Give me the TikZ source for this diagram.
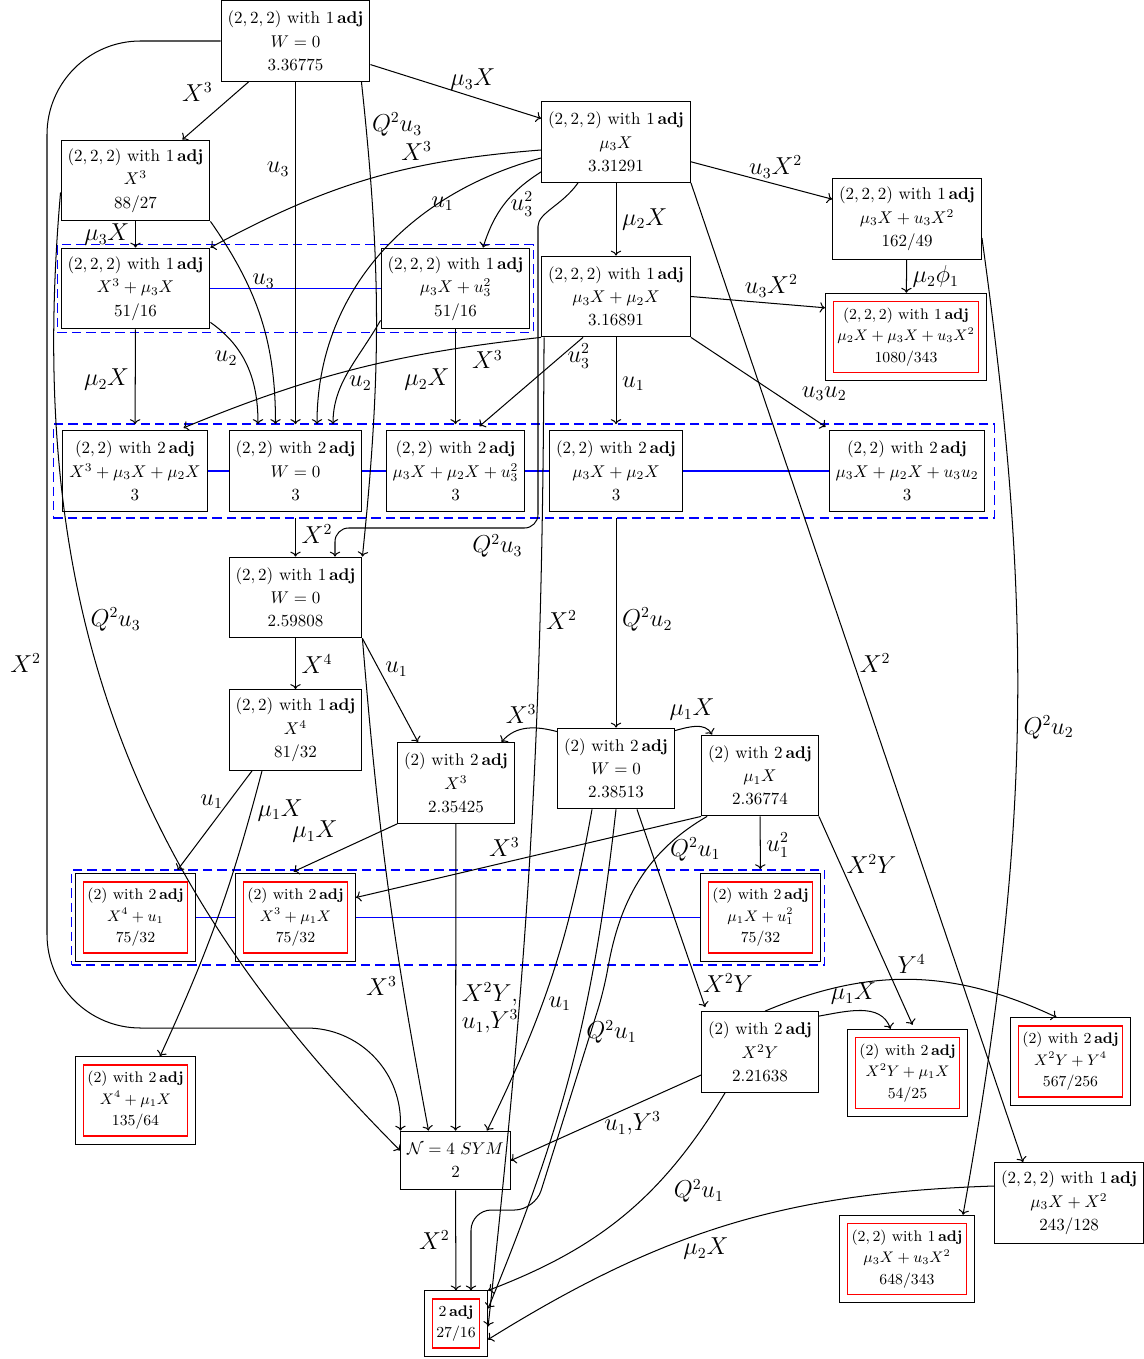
\documentclass[tikz,border=0pt]{standalone}
\usepackage{amsmath}
\usepackage{amssymb}
\usepackage{xcolor}
\usepackage{tikz}
\usetikzlibrary{positioning,calc,fit,arrows.meta}
\newcommand{\wadj}[2]{$#1$ with $#2\,\mathbf{adj}$}
\tikzset{
    box/.style={rectangle, draw, align=center, inner xsep=3.8pt, inner ysep=4pt, minimum height=47.5pt, font=\fontsize{10}{13.7}\selectfont},
    finalbox/.style={rectangle, draw=red, thick, align=center, inner xsep=2.2pt, inner ysep=3.8pt, font=\fontsize{9}{12.6}\selectfont},
    outerbox/.style={rectangle, draw, inner sep=4.4pt},
    group/.style={rectangle, draw=blue, dash pattern=on 5.5pt off 3pt, thick},
    link/.style={draw=blue, thick},
    lab/.style={font=\fontsize{13.5}{16}\selectfont},
    ingrp/.style={shorten >=3.5pt}
}

\begin{document}
\begin{tikzpicture}[x=0.588pt, y=0.588pt, semithick]
    \useasboundingbox (0,0) rectangle (1143,-1359);

    % --- (2,2,2) WITH 1 ADJ ---
    \node[box] (n222w) at (295.5,-41) {\wadj{(2,2,2)}{1}\\ $W=0$\\ 3.36775};
    \node[box] (n222x3) at (135.5,-180.5) {\wadj{(2,2,2)}{1}\\ $X^3$\\ 88/27};
    \node[box] (n222m3) at (616,-142) {\wadj{(2,2,2)}{1}\\ $\mu_3X$\\ 3.31291};
    \node[box] (n222m3ux) at (907,-219) {\wadj{(2,2,2)}{1}\\ $\mu_3X+u_3X^2$\\ 162/49};
    \node[box] (n222x3m3) at (135.5,-288.5) {\wadj{(2,2,2)}{1}\\ $X^3+\mu_3X$\\ 51/16};
    \node[box] (n222m3u) at (455.5,-288.5) {\wadj{(2,2,2)}{1}\\ $\mu_3X+u_3^2$\\ 51/16};
    \node[box] (n222m3m2) at (616,-296.5) {\wadj{(2,2,2)}{1}\\ $\mu_3X+\mu_2X$\\ 3.16891};
    \node[box] (n222m3x2) at (1069,-1203) {\wadj{(2,2,2)}{1}\\ $\mu_3X+X^2$\\ 243/128};
    \node[finalbox] (f222-in) at (906,-337) {\wadj{(2,2,2)}{1}\\ $\mu_2X+\mu_3X+u_3X^2$\\ 1080/343};

    % --- (2,2) ---
    \node[box] (n22x3) at (135,-471) {\wadj{(2,2)}{2}\\ $X^3+\mu_3X+\mu_2X$\\ 3};
    \node[box] (n22w) at (295.5,-471) {\wadj{(2,2)}{2}\\ $W=0$\\ 3};
    \node[box] (n22u) at (455.5,-471) {\wadj{(2,2)}{2}\\ $\mu_3X+\mu_2X+u_3^2$\\ 3};
    \node[box] (n22m) at (616,-471) {\wadj{(2,2)}{2}\\ $\mu_3X+\mu_2X$\\ 3};
    \node[box] (n22uu) at (907,-471) {\wadj{(2,2)}{2}\\ $\mu_3X+\mu_2X+u_3u_2$\\ 3};
    \node[box] (n22w1) at (295.5,-597.5) {\wadj{(2,2)}{1}\\ $W=0$\\ 2.59808};
    \node[box] (n22x4) at (295.5,-730) {\wadj{(2,2)}{1}\\ $X^4$\\ 81/32};
    \node[finalbox] (f22m3ux-in) at (907,-1259) {\wadj{(2,2)}{1}\\ $\mu_3X+u_3X^2$\\ 648/343};

    % --- (2) ---
    \node[box] (n2x3) at (456,-783) {\wadj{(2)}{2}\\ $X^3$\\ 2.35425};
    \node[box] (n2w) at (616,-768.5) {\wadj{(2)}{2}\\ $W=0$\\ 2.38513};
    \node[box] (n2m1) at (760,-775.5) {\wadj{(2)}{2}\\ $\mu_1X$\\ 2.36774};
    \node[box] (n2x2y) at (760,-1052) {\wadj{(2)}{2}\\ $X^2Y$\\ 2.21638};
    \node[finalbox] (f2x4u-in) at (135.5,-917.5) {\wadj{(2)}{2}\\ $X^4+u_1$\\ 75/32};
    \node[finalbox] (f2x3m-in) at (295.5,-917.5) {\wadj{(2)}{2}\\ $X^3+\mu_1X$\\ 75/32};
    \node[finalbox] (f2m1u-in) at (760.5,-917.5) {\wadj{(2)}{2}\\ $\mu_1X+u_1^2$\\ 75/32};
    \node[finalbox] (f2x2ym-in) at (907.5,-1073) {\wadj{(2)}{2}\\ $X^2Y+\mu_1X$\\ 54/25};
    \node[finalbox] (f2x2yy-in) at (1070.5,-1061.5) {\wadj{(2)}{2}\\ $X^2Y+Y^4$\\ 567/256};
    \node[finalbox] (f2x4m-in) at (135.5,-1100.5) {\wadj{(2)}{2}\\ $X^4+\mu_1X$\\ 135/64};

    % --- END POINTS ---
    \node[box, minimum height=34.5pt] (sym) at (455.5,-1160.5) {$\mathcal{N}=4$ $SYM$\\ 2};
    \node[finalbox] (f2adj-in) at (456,-1323.5) {$2\,\mathbf{adj}$\\ 27/16};

    % --- OUTER FRAMES OF THE RED BOXES ---
    \foreach \n in {f222,f22m3ux,f2x4u,f2x3m,f2m1u,f2x2ym,f2x2yy,f2x4m,f2adj}
        \node[outerbox, fit=(\n-in)] (\n) {};

    % --- BLUE GROUPS ---
    \node[group, inner sep=1.8pt, fit=(n222x3m3)(n222m3u)] (grpA) {};
    \node[group, inner xsep=5.3pt, inner ysep=3.5pt, fit=(n22x3)(n22uu)] (grpB) {};
    \node[group, inner sep=2pt, fit=(f2x4u)(f2m1u)] (grpC) {};
    \draw[link] (n222x3m3) -- (n222m3u);
    \draw[link] (n22x3) -- (n22w) -- (n22u) -- (n22m) -- (n22uu);
    \draw[link] (f2x4u) -- (f2x3m) -- (f2m1u);

    % --- FROM W=0 (2,2,2) ---
    \draw[->] (n222w) -- node[lab, above left, pos=0.45] {$X^3$} (n222x3);
    \draw[->] (n222w) -- node[lab, above, pos=0.6] {$\mu_3X$} (n222m3);
    \draw[->, ingrp] (n222w) -- node[lab, left, pos=0.25] {$u_3$} (n22w);
    \draw[->] ([shift={(-9,0)}]n222w.south east) to[bend left=6] node[lab, right, pos=0.08] {$Q^2u_3$} (n22w1.north east);
    \draw[->, rounded corners=55pt] (n222w.west) -- (47,-41) -- node[lab, left, pos=0.63] {$X^2$} (47,-1028) -- (400,-1028) -- ([shift={(-55,0)}]sym.north);

    % --- FROM X^3 ---
    \draw[->] ([shift={(0,-12)}]n222x3.west) to[out=-95, in=135] node[lab, right, pos=0.4] {$Q^2u_3$} ([shift={(0,10)}]sym.west);
    \draw[->] (n222x3) -- node[lab, left] {$\mu_3X$} (n222x3m3);
    \draw[->, ingrp] (n222x3.south east) to[out=-55, in=90] node[lab, right, pos=0.3] {$u_3$} ([shift={(-20,0)}]n22w.north);

    % --- FROM mu_3 X ---
    \draw[->] ([shift={(0,-8)}]n222m3.west) to[bend right=12] node[lab, above, pos=0.35] {$X^3$} (n222x3m3.north east);
    \draw[->, ingrp] ([shift={(0,-16)}]n222m3.west) to[out=195, in=90] node[lab, below left, pos=0.22] {$u_1$} ([shift={(21.5,0)}]n22w.north);
    \draw[->] ([shift={(0,11)}]n222m3.south west) to[bend right=20] node[lab, right, pos=0.5] {$u_3^2$} ([shift={(27.5,0)}]n222m3u.north);
    \draw[->] (n222m3) -- node[lab, right] {$\mu_2X$} (n222m3m2);
    \draw[->] (n222m3) -- node[lab, above, pos=0.6] {$u_3X^2$} (n222m3ux);
    \draw[->] (n222m3.south east) -- node[lab, right, pos=0.49] {$X^2$} ([shift={(-46,0)}]n222m3x2.north);
    \draw[->, rounded corners=8pt] ([shift={(-38,0)}]n222m3.south) to[out=235, in=90] (538,-240) -- (538,-528) -| node[lab, below, pos=0.1] {$Q^2u_3$} ([shift={(39.5,0)}]n22w1.north);

    % --- FROM mu_3 X + mu_2 X ---
    \draw[->, ingrp] (n222m3m2.south west) to[bend right=8] node[lab, below, pos=0.13] {$X^3$} ([shift={(43,0)}]n22x3.north);
    \draw[->, ingrp] ([shift={(-33,0)}]n222m3m2.south) -- node[lab, right, pos=0.2] {$u_3^2$} ([shift={(19.5,0)}]n22u.north);
    \draw[->, ingrp] (n222m3m2) -- node[lab, right] {$u_1$} (n22m);
    \draw[->, ingrp] (n222m3m2.south east) -- node[lab, above right, pos=0.75] {$u_3u_2$} ([shift={(2,0)}]n22uu.north west);
    \draw[->] (n222m3m2.east) -- node[lab, above, pos=0.6] {$u_3X^2$} ([shift={(0,-15)}]f222.north west);
    \draw[->] ([shift={(3,0)}]n222m3m2.south west) to[bend left=3] node[lab, right, pos=0.27] {$X^2$} ([shift={(0,-3)}]f2adj.east);

    % --- FROM mu_3 X + u_3 X^2 ---
    \draw[->] (n222m3ux) -- node[lab, right] {$\mu_2\phi_1$} (f222);
    \draw[->] ([shift={(0,-19)}]n222m3ux.east) to[bend left=9] node[lab, right, pos=0.5] {$Q^2u_2$} ([shift={(56,0)}]f22m3ux.north);

    % --- FROM THE FIRST BLUE GROUP ---
    \draw[->, ingrp] (n222x3m3) -- node[lab, left] {$\mu_2X$} (n22x3);
    \draw[->, ingrp] ([shift={(0,7)}]n222x3m3.south east) to[out=-35, in=90] node[lab, left, pos=0.4] {$u_2$} ([shift={(-37.5,0)}]n22w.north);
    \draw[->, ingrp] (n222m3u) -- node[lab, left] {$\mu_2X$} (n22u);
    \draw[->, ingrp] ([shift={(0,9)}]n222m3u.south west) to[out=-120, in=90] node[lab, right, pos=0.6] {$u_2$} ([shift={(37.5,0)}]n22w.north);

    % --- FROM THE SECOND BLUE GROUP ---
    \draw[->, shorten <=3.5pt] (n22w) -- node[lab, right] {$X^2$} (n22w1);
    \draw[->, shorten <=3.5pt] (n22m) -- node[lab, right] {$Q^2u_2$} (n2w);

    % --- FROM (2,2) ---
    \draw[->] (n22w1) -- node[lab, right] {$X^4$} (n22x4);
    \draw[->] (n22w1.south east) -- node[lab, right, pos=0.3] {$u_1$} ([shift={(-38,0)}]n2x3.north);
    \draw[->] (n22w1.south east) to[bend right=3] node[lab, left, pos=0.72] {$X^3$} ([shift={(-27,0)}]sym.north);
    \draw[->, shorten >=2.4pt] ([shift={(-43.5,0)}]n22x4.south) -- node[lab, left, pos=0.3] {$u_1$} ([shift={(39.5,0)}]f2x4u.north);
    \draw[->] ([shift={(-33.5,0)}]n22x4.south) to[bend left=5] node[lab, right, pos=0.12] {$\mu_1X$} ([shift={(24.5,0)}]f2x4m.north);

    % --- FROM (2) ---
    \draw[->, shorten >=2.4pt] (n2x3.south west) -- node[lab, above left, pos=0.5] {$\mu_1X$} ([shift={(-5.5,0)}]f2x3m.north);
    \draw[->] (n2x3) -- node[lab, right, align=left, pos=0.6] {$X^2Y$,\\ $u_1$,$Y^3$} (sym);
    \draw[->] ([shift={(0,-4)}]n2w.north west) to[out=165, in=50] node[lab, above, pos=0.6] {$X^3$} (n2x3.42);
    \draw[->] ([shift={(0,-3)}]n2w.north east) to[out=15, in=120] node[lab, above, pos=0.4] {$\mu_1X$} ([shift={(11,0)}]n2m1.north west);
    \draw[->] ([shift={(-24,0)}]n2w.south) to[bend left=8] node[lab, right, pos=0.6] {$u_1$} ([shift={(31.5,0)}]sym.north);
    \draw[->] (n2w.south) to[bend left=8] node[lab, right, pos=0.43] {$Q^2u_1$} ([shift={(0,15)}]f2adj.east);
    \draw[->] ([shift={(21,0)}]n2w.south) -- node[lab, right, pos=0.88] {$X^2Y$} ([shift={(4,4)}]n2x2y.north west);
    \draw[->, shorten >=2.4pt] (n2m1) -- node[lab, right] {$u_1^2$} (f2m1u);
    \draw[->] (n2m1.south west) -- node[lab, above, pos=0.57] {$X^3$} ([shift={(0,20)}]f2x3m.east);
    \draw[->] (n2m1.south east) -- node[lab, right, pos=0.23] {$X^2Y$} ([shift={(5,4)}]f2x2ym.north);
    \draw[->, rounded corners=12pt] ([shift={(6,0)}]n2m1.south west) to[out=210, in=80] node[lab, right, pos=0.25] {$Q^2u_1$} (604,-990) -- (535,-1210) -| ([shift={(15,0)}]f2adj.north);

    % --- FROM X^2 Y ---
    \draw[->] ([shift={(0,-5)}]n2x2y.north east) to[out=10, in=110] node[lab, above, pos=0.4] {$\mu_1X$} ([shift={(-17,0)}]f2x2ym.north);
    \draw[->] ([shift={(5,0)}]n2x2y.north) to[bend left=24] node[lab, above] {$Y^4$} ([shift={(-14,0)}]f2x2yy.north);
    \draw[->] ([shift={(0,-23)}]n2x2y.west) -- node[lab, below, pos=0.36] {$u_1$,$Y^3$} (sym.east);
    \draw[->] ([shift={(-35,0)}]n2x2y.south) to[bend left=19] node[lab, below right, pos=0.3] {$Q^2u_1$} (f2adj.north east);

    % --- INTO 2 ADJ ---
    \draw[->] (sym) -- node[lab, left] {$X^2$} (f2adj);
    \draw[->] ([shift={(0,17)}]n222m3x2.west) to[bend right=15] node[lab, below, pos=0.55] {$\mu_2X$} ([shift={(0,-16)}]f2adj.east);

\end{tikzpicture}
\end{document}
